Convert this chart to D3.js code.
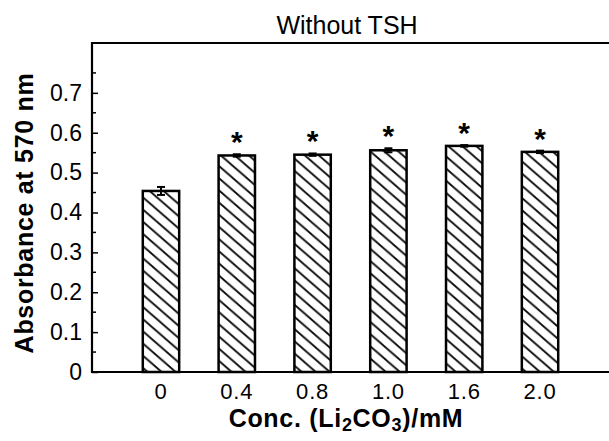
<!DOCTYPE html>
<html>
<head>
<meta charset="utf-8">
<script src="https://cdn.jsdelivr.net/npm/d3@7"></script>
<style>
  body { margin: 0; background: #fff; }
  text { font-family: Arial, "Liberation Sans", sans-serif; fill: #000; }
</style>
</head>
<body>
<svg id="chart" width="609" height="441"></svg>
<script>
// NOTE: values
const categories = ['0', '0.4', '0.8', '1.0', '1.6', '2.0']
const values = [0.454, 0.543, 0.545, 0.556, 0.567, 0.552]
const errors = [0.010, 0.003, 0.003, 0.005, 0.002, 0.003]
const marked = [false, true, true, true, true, true]
const yTicks = [0, 0.1, 0.2, 0.3, 0.4, 0.5, 0.6, 0.7]
const yMinorTicks = [0.05, 0.15, 0.25, 0.35, 0.45, 0.55, 0.65, 0.75]

const svg = d3.select('#chart')
const margin = { left: 92, right: 0, top: 43, bottom: 69 }
const width = 609
const height = 441

const x = d3.scaleBand()
  .domain(categories)
  .range([margin.left, width - margin.right])
  .paddingInner(0.52)
  .paddingOuter(0.67)

const y = d3.scaleLinear()
  .domain([0, 0.825])
  .range([height - margin.bottom, margin.top])

// NOTE: hatch pattern for bars
const defs = svg.append('defs')
const pat = defs.append('pattern')
  .attr('id', 'hatch')
  .attr('patternUnits', 'userSpaceOnUse')
  .attr('width', 13)
  .attr('height', 13)
  .attr('patternTransform', 'rotate(-4)')
pat.append('path')
  .attr('d', 'M-3,-3 L16,16 M-3,10 L3,16 M10,-3 L16,3')
  .attr('stroke', '#000')
  .attr('stroke-width', 1.8)

const data = categories.map((c, i) => ({ c, v: values[i], e: errors[i], star: marked[i] }))

// NOTE: bars
svg.append('g')
  .selectAll('rect')
  .data(data)
  .join('rect')
  .attr('x', d => x(d.c))
  .attr('y', d => y(d.v))
  .attr('width', x.bandwidth())
  .attr('height', d => y(0) - y(d.v))
  .attr('fill', 'url(#hatch)')
  .attr('stroke', '#000')
  .attr('stroke-width', 2.5)

// NOTE: error bars
const err = svg.append('g').attr('stroke', '#000').attr('stroke-width', 2)
data.forEach(d => {
  const cx = x(d.c) + x.bandwidth() / 2
  err.append('line').attr('x1', cx).attr('x2', cx).attr('y1', y(d.v + d.e)).attr('y2', y(d.v - d.e))
  err.append('line').attr('x1', cx - 4).attr('x2', cx + 4).attr('y1', y(d.v + d.e)).attr('y2', y(d.v + d.e))
  err.append('line').attr('x1', cx - 4).attr('x2', cx + 4).attr('y1', y(d.v - d.e)).attr('y2', y(d.v - d.e))
})

// NOTE: significance stars
svg.append('g')
  .selectAll('text')
  .data(data.filter(d => d.star))
  .join('text')
  .attr('x', d => x(d.c) + x.bandwidth() / 2)
  .attr('y', d => y(d.v + d.e) - 2)
  .attr('text-anchor', 'middle')
  .style('font-size', '30px')
  .style('font-weight', 'bold')
  .text('*')

// NOTE: y axis with inward ticks
const yAxis = svg.append('g')
  .attr('transform', `translate(${margin.left},0)`)
  .call(d3.axisLeft(y).tickValues(yTicks).tickFormat(d => d === 0 ? '0' : d3.format('.1f')(d))
    .tickSizeInner(-6).tickSizeOuter(0).tickPadding(10))
yAxis.select('.domain').remove()
yAxis.selectAll('line').attr('stroke', '#000').attr('stroke-width', 1.5)
yAxis.selectAll('text').style('font-size', '23px').attr('font-family', null)

svg.append('g')
  .selectAll('line')
  .data(yMinorTicks)
  .join('line')
  .attr('x1', margin.left).attr('x2', margin.left + 4)
  .attr('y1', d => y(d)).attr('y2', d => y(d))
  .attr('stroke', '#000').attr('stroke-width', 1.5)

// NOTE: frame (left, bottom, top)
const frame = svg.append('g').attr('stroke', '#000').attr('stroke-width', 2.2).attr('fill', 'none')
frame.append('path')
  .attr('d', `M${width},${y.range()[1]} H${margin.left} V${y(0)} H${width}`)

// NOTE: x tick labels
svg.append('g')
  .selectAll('text')
  .data(categories)
  .join('text')
  .attr('x', d => x(d) + x.bandwidth() / 2)
  .attr('y', 399)
  .attr('text-anchor', 'middle')
  .style('font-size', '22px')
  .style('letter-spacing', '0.8px')
  .text(d => d)

// NOTE: titles
svg.append('text')
  .attr('x', 347).attr('y', 34)
  .attr('text-anchor', 'middle')
  .style('font-size', '25px')
  .text('Without TSH')

const xt = svg.append('text')
  .attr('x', 346).attr('y', 427)
  .attr('text-anchor', 'middle')
  .style('font-size', '25px')
  .style('font-weight', 'bold')
  .style('letter-spacing', '0.7px')
xt.append('tspan').text('Conc. (Li')
xt.append('tspan').attr('dy', 4).style('font-size', '18px').text('2')
xt.append('tspan').attr('dy', -4).text('CO')
xt.append('tspan').attr('dy', 4).style('font-size', '18px').text('3')
xt.append('tspan').attr('dy', -4).text(')/mM')

svg.append('text')
  .attr('transform', `translate(33,213) rotate(-90)`)
  .attr('text-anchor', 'middle')
  .style('font-size', '25px')
  .style('font-weight', 'bold')
  .style('letter-spacing', '0.7px')
  .text('Absorbance at 570 nm')
</script>
</body>
</html>
